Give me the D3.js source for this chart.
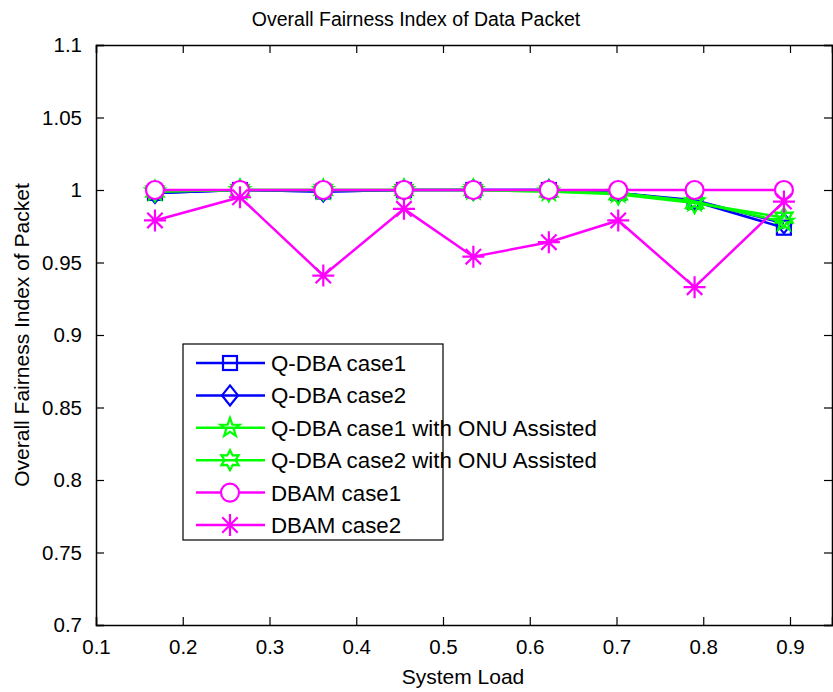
<!DOCTYPE html>
<html><head><meta charset="utf-8">
<script src="https://cdn.jsdelivr.net/npm/d3@7"></script>
<style>body{margin:0;background:#fff}svg{display:block}text{font-family:"Liberation Sans",Arial,sans-serif}</style>
</head><body><div id="c"></div>
<script>
const loads = [0.168, 0.266, 0.362, 0.455, 0.535, 0.622, 0.702, 0.790, 0.893];
const qdba1 = [0.998, 1.000, 0.999, 1.000, 1.000, 1.000, 0.998, 0.992, 0.974];
const qdba2 = [0.998, 1.000, 0.999, 1.000, 1.000, 1.000, 0.998, 0.993, 0.977];
const onu1  = [0.999, 1.000, 1.000, 1.000, 1.000, 0.999, 0.998, 0.992, 0.978];
const onu2  = [0.999, 1.000, 1.000, 1.000, 1.000, 0.999, 0.997, 0.991, 0.981];
const dbam1 = [1.000, 1.000, 1.000, 1.000, 1.000, 1.000, 1.000, 1.000, 1.000];
const dbam2 = [0.979, 0.995, 0.941, 0.987, 0.954, 0.964, 0.979, 0.933, 0.992];
const seriesNames = ["Q-DBA case1","Q-DBA case2","Q-DBA case1 with ONU Assisted","Q-DBA case2 with ONU Assisted","DBAM case1","DBAM case2"];
const xTicks = [0.1,0.2,0.3,0.4,0.5,0.6,0.7,0.8,0.9];
const yTicks = [0.7,0.75,0.8,0.85,0.9,0.95,1,1.05,1.1];

const series = [
  {name:seriesNames[0], vals:qdba1, color:"#0000ff", marker:"square"},
  {name:seriesNames[1], vals:qdba2, color:"#0000ff", marker:"diamond"},
  {name:seriesNames[2], vals:onu1,  color:"#00ff00", marker:"pentagram"},
  {name:seriesNames[3], vals:onu2,  color:"#00ff00", marker:"hexagram"},
  {name:seriesNames[4], vals:dbam1, color:"#ff00ff", marker:"circle"},
  {name:seriesNames[5], vals:dbam2, color:"#ff00ff", marker:"asterisk"}
];

const W=833,H=692;
const L=96,R=832,T=45,B=625;
const pxPerTenth=86.75;
const svg=d3.select("#c").append("svg").attr("width",W).attr("height",H);
const x=d3.scaleLinear().domain([0.1,0.1+(R-L)/pxPerTenth*0.1]).range([L,R]);
const y=d3.scaleLinear().domain([0.7,1.1]).range([B,T]);

function starPath(n, ro, ri){
  let p=[];
  for(let i=0;i<2*n;i++){
    const r = i%2===0?ro:ri;
    const a = -Math.PI/2 + i*Math.PI/n;
    p.push([r*Math.cos(a), r*Math.sin(a)]);
  }
  return "M"+p.map(d=>d[0].toFixed(2)+","+d[1].toFixed(2)).join("L")+"Z";
}
function drawMarker(g, type, color){
  const sw=2.2;
  if(type==="square") g.append("rect").attr("x",-7).attr("y",-7).attr("width",14).attr("height",14).attr("fill","none").attr("stroke",color).attr("stroke-width",sw);
  else if(type==="diamond") g.append("path").attr("d","M0,-10L8,0L0,10L-8,0Z").attr("fill","none").attr("stroke",color).attr("stroke-width",sw);
  else if(type==="pentagram") g.append("path").attr("d",starPath(5,10,4)).attr("fill","none").attr("stroke",color).attr("stroke-width",sw);
  else if(type==="hexagram") g.append("path").attr("d",starPath(6,10,5.5)).attr("fill","none").attr("stroke",color).attr("stroke-width",sw);
  else if(type==="circle") g.append("circle").attr("r",9).attr("fill","#fff").attr("stroke",color).attr("stroke-width",sw);
  else if(type==="asterisk"){
    const s=11;
    g.append("path").attr("d",`M0,${-s}L0,${s}M${-s},0L${s},0M${-s*0.7},${-s*0.7}L${s*0.7},${s*0.7}M${-s*0.7},${s*0.7}L${s*0.7},${-s*0.7}`)
      .attr("stroke",color).attr("stroke-width",sw).attr("fill","none");
  }
}

svg.append("rect").attr("x",L).attr("y",T).attr("width",R-L).attr("height",B-T).attr("fill","#fff").attr("stroke","none");

const line=d3.line().x((d,i)=>x(loads[i])).y(d=>y(d));
series.forEach(s=>{
  svg.append("path").datum(s.vals).attr("d",line).attr("fill","none").attr("stroke",s.color).attr("stroke-width",2.5);
  s.vals.forEach((v,i)=>{
    const g=svg.append("g").attr("transform",`translate(${x(loads[i])},${y(v)})`);
    drawMarker(g,s.marker,s.color);
  });
});

const tl=8;
const axB=svg.append("g").attr("transform",`translate(0,${B})`).call(d3.axisBottom(x).tickValues(xTicks).tickSize(-tl).tickPadding(tl+6).tickFormat(d3.format("")));
const axT=svg.append("g").attr("transform",`translate(0,${T})`).call(d3.axisTop(x).tickValues(xTicks).tickSize(-tl).tickFormat(""));
const axL=svg.append("g").attr("transform",`translate(${L},0)`).call(d3.axisLeft(y).tickValues(yTicks).tickSize(-tl).tickPadding(tl+6).tickFormat(d3.format("")));
const axR=svg.append("g").attr("transform",`translate(${R},0)`).call(d3.axisRight(y).tickValues(yTicks).tickSize(-tl).tickFormat(""));
[axB,axT,axL,axR].forEach(a=>{
  a.select(".domain").attr("stroke","#000").attr("stroke-width",1.5);
  a.selectAll(".tick line").attr("stroke","#000").attr("stroke-width",1.2);
  a.selectAll("text").attr("font-size",20.5).attr("fill","#000").attr("font-family","Liberation Sans, Arial, sans-serif");
});
axB.selectAll("text").attr("dy","0.71em").attr("y",14);

svg.append("text").attr("x",416).attr("y",26).attr("text-anchor","middle").attr("font-size",19.5).text("Overall Fairness Index of Data Packet");
svg.append("text").attr("x",463).attr("y",684).attr("text-anchor","middle").attr("font-size",21).text("System Load");
svg.append("text").attr("transform","translate(29,335) rotate(-90)").attr("text-anchor","middle").attr("font-size",21).text("Overall Fairness Index of Packet");

const lg=svg.append("g");
lg.append("rect").attr("x",183).attr("y",344).attr("width",260).attr("height",196).attr("fill","#fff").attr("stroke","#000").attr("stroke-width",1.2);
const ly0=363, ldy=32.4;
series.forEach((s,i)=>{
  const yy=ly0+i*ldy;
  lg.append("line").attr("x1",196).attr("x2",265).attr("y1",yy).attr("y2",yy).attr("stroke",s.color).attr("stroke-width",2.5);
  const g=lg.append("g").attr("transform",`translate(230,${yy})`);
  drawMarker(g,s.marker,s.color);
  lg.append("text").attr("x",271).attr("y",yy).attr("dy","0.36em").attr("font-size",22.3).text(s.name);
});
</script></body></html>
